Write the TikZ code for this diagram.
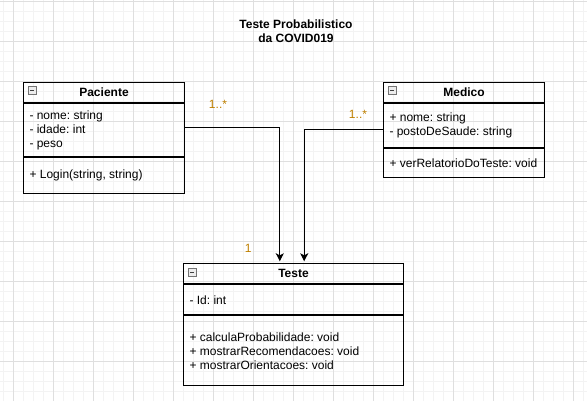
\documentclass[tikz,border=0pt]{standalone}
\usepackage{fontspec}
\setmainfont{Liberation Sans}
\usetikzlibrary{arrows.meta, positioning}
\definecolor{gridmajor}{HTML}{DFDFDF}
\definecolor{gridminor}{HTML}{F3F3F3}
\definecolor{multcolor}{HTML}{BF8000}

\begin{document}
\begin{tikzpicture}[
  x=1pt, y=-1pt,
  font=\fontsize{12}{14}\selectfont\frenchspacing,
  >={Stealth[length=8pt, width=8pt, inset=2pt]},
  head/.style={draw, line width=1pt, inner sep=0pt, minimum height=20.6pt,
               font=\fontsize{12}{14}\selectfont\bfseries},
  part/.style={draw, line width=1pt, align=flush left, inner xsep=5.7pt, inner ysep=0pt},
  toggle/.style={draw=black!55, fill=black!7, line width=0.6pt, inner sep=0pt,
                 minimum size=8pt,
                 path picture={\draw[black!75, line width=0.8pt]
                   ([xshift=2pt]path picture bounding box.west) --
                   ([xshift=-2pt]path picture bounding box.east);}},
  mult/.style={text=multcolor, inner sep=0pt},
  assoc/.style={->, line width=1pt, shorten >=2pt}
]
\useasboundingbox (0,0) rectangle (587,401);

% Background grid
\foreach \gx in {3.3,13.3,...,583.3} \draw[gridminor, line width=0.8pt] (\gx,0) -- (\gx,401);
\foreach \gy in {1.7,11.7,...,391.7} \draw[gridminor, line width=0.8pt] (0,\gy) -- (587,\gy);
\foreach \gx in {13.3,53.3,...,573.3} \draw[gridmajor, line width=1pt] (\gx,0) -- (\gx,401);
\foreach \gy in {1.7,41.7,...,401.7} \draw[gridmajor, line width=1pt] (0,\gy) -- (587,\gy);

% Title
\node[font=\fontsize{12}{14}\selectfont\bfseries, align=center] (title) at (296,31.5)
  {Teste Probabilistico\\da COVID019};

% Class Paciente
\node[head, minimum width=160.4pt, anchor=north west] (pachead) at (23.3,81.7) {Paciente};
\node[part, text width=149pt, minimum height=53pt, below=0pt of pachead] (pacattr)
  {- nome: string\\- idade: int\\- peso};
\node[part, text width=149pt, minimum height=35.4pt, below=0pt of pacattr] (pacmeth)
  {+ Login(string, string)};
\node[toggle, below right=4.8pt and 4.7pt of pachead.north west] (pacicon) {};

% Class Medico
\node[head, minimum width=160.4pt, anchor=north west] (medhead) at (383.3,81.7) {Medico};
\node[part, text width=149pt, minimum height=43.4pt, below=0pt of medhead] (medattr)
  {+ nome: string\\- postoDeSaude: string};
\node[part, text width=149pt, minimum height=29.6pt, below=0pt of medattr] (medmeth)
  {+ verRelatorioDoTeste: void};
\node[toggle, below right=4.8pt and 4.7pt of medhead.north west] (medicon) {};

% Class Teste
\node[head, minimum width=219.4pt, minimum height=20pt, anchor=north west] (testehead) at (183.3,263.3) {Teste};
\node[part, text width=208pt, minimum height=30pt, below=0pt of testehead] (testeattr)
  {- Id: int};
\node[part, text width=208pt, minimum height=70pt, below=0pt of testeattr] (testemeth)
  {+ calculaProbabilidade: void\\+ mostrarRecomendacoes: void\\+ mostrarOrientacoes: void};
\node[toggle, below right=4.8pt and 4.7pt of testehead.north west] (testeicon) {};

% Associations
\draw[assoc] ([yshift=2.5pt]pacattr.east) -| ([xshift=-13.7pt]testehead.north);
\draw[assoc] ([yshift=-4.3pt]medattr.west) -| ([xshift=10.7pt]testehead.north);

% Multiplicities
\node[mult] (pacmult) at (218,104) {1..*};
\node[mult] (medmult) at (358,114.3) {1..*};
\node[mult] (testemult) at (248.3,248.3) {1};

\end{tikzpicture}
\end{document}
